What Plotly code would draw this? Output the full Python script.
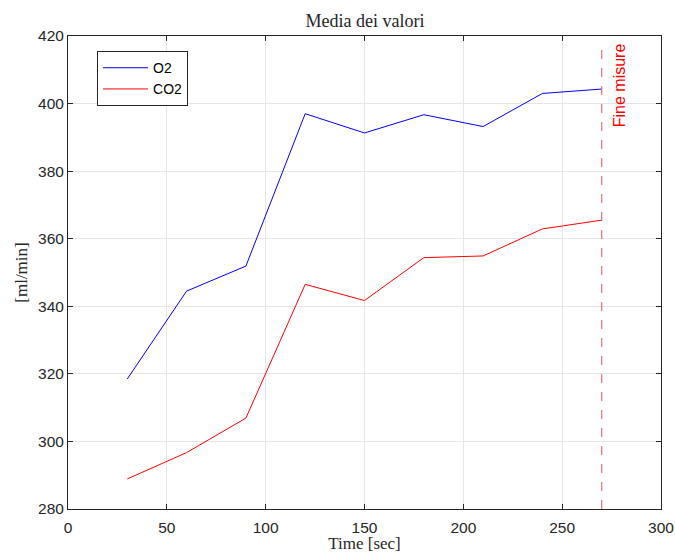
import plotly.graph_objects as go

# Sampling times [sec] and mean values [ml/min]
time_sec = [30, 60, 90, 120, 150, 180, 210, 240, 270]
o2_mean = [318.5, 344.5, 351.9, 397.0, 391.3, 396.7, 393.2, 403.0, 404.3]
co2_mean = [288.9, 296.7, 306.9, 346.5, 341.7, 354.4, 354.9, 362.9, 365.5]

end_time = 270
end_label = "Fine misure"

x_ticks = [0, 50, 100, 150, 200, 250, 300]
y_ticks = [280, 300, 320, 340, 360, 380, 400, 420]

serif = "Liberation Serif, DejaVu Serif, serif"
sans = "Liberation Sans, Arial, sans-serif"

fig = go.Figure()
fig.add_trace(go.Scatter(x=time_sec, y=o2_mean, mode="lines", name="O2",
                         line=dict(color="#0000ff", width=1)))
fig.add_trace(go.Scatter(x=time_sec, y=co2_mean, mode="lines", name="CO2",
                         line=dict(color="#ff0000", width=1)))

# End-of-measurement marker
fig.add_shape(type="line", x0=end_time, x1=end_time, y0=280, y1=418.3,
              xref="x", yref="y",
              line=dict(color="rgba(230,60,80,0.75)", width=1.2, dash="dash"))
fig.add_annotation(x=end_time, y=418.5, xref="x", yref="y",
                   text=end_label, textangle=-90, showarrow=False,
                   xanchor="left", yanchor="top", xshift=7,
                   font=dict(family=sans, size=16, color="#ff0000"))

axis_common = dict(showline=True, linecolor="#262626", linewidth=1,
                   mirror="ticks", ticks="inside", ticklen=5,
                   tickcolor="#262626", showgrid=True, gridcolor="#e6e6e6",
                   gridwidth=1, zeroline=False, automargin=False,
                   tickfont=dict(family=sans, size=15.5, color="#262626"))

fig.update_xaxes(range=[0, 300], tickvals=x_ticks, **axis_common,
                 ticklabelstandoff=4,
                 title=dict(text="Time [sec]", standoff=2,
                            font=dict(family=serif, size=17, color="#262626")))
fig.update_yaxes(range=[280, 420], tickvals=y_ticks, **axis_common,
                 title=dict(text="[ml/min]", standoff=6,
                            font=dict(family=serif, size=17, color="#262626")))

fig.update_layout(
    width=675, height=553,
    margin=dict(l=68, r=14, t=36, b=44, autoexpand=False),
    paper_bgcolor="white", plot_bgcolor="white",
    title=dict(text="Media dei valori", x=365 / 675, xanchor="center",
               y=1 - 27 / 553, yanchor="bottom", xref="container", yref="container",
               font=dict(family=serif, size=18, color="#262626")),
    legend=dict(x=0.049, y=0.968, xanchor="left", yanchor="top",
                bgcolor="white", bordercolor="#262626", borderwidth=1,
                font=dict(family=sans, size=14, color="#000000"),
                tracegroupgap=0, itemwidth=45),
    showlegend=True,
)

fig.write_html("out.html")
